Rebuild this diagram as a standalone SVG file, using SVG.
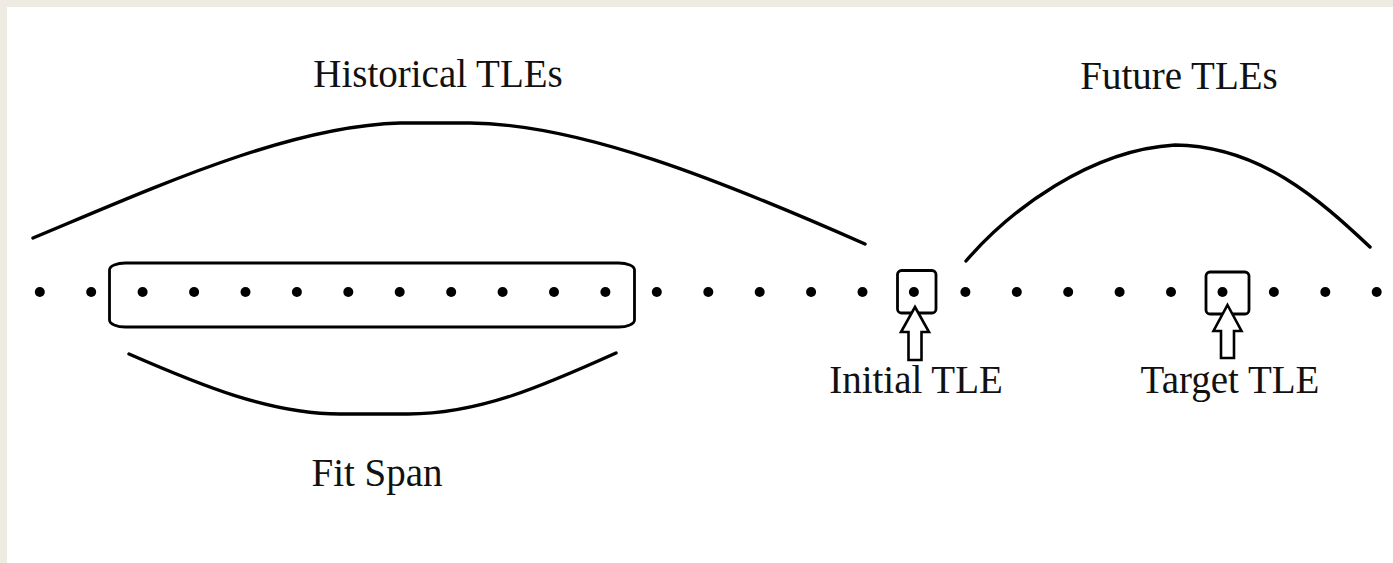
<svg xmlns="http://www.w3.org/2000/svg" width="1393" height="563" viewBox="0 0 1393 563">
  <style>
    .dot { fill: #000; }
    .line { fill: none; stroke: #000; stroke-width: 3.4; stroke-linecap: round; }
    .box { fill: none; stroke: #000; stroke-width: 2.8; }
    .arrow { fill: #fff; stroke: #000; stroke-width: 2.6; stroke-linejoin: miter; }
    .lbl { font-family: "Liberation Serif", "Times New Roman", serif; font-size: 39px; fill: #111; text-anchor: middle; }
  </style>
  <rect x="0" y="0" width="1393" height="563" fill="#EEEBE3"/>
  <rect x="7" y="7" width="1386" height="556" fill="#FFFFFF"/>

  <g id="dots">
    <circle class="dot" cx="39.8" cy="292" r="5"/>
    <circle class="dot" cx="91.2" cy="292" r="5"/>
    <circle class="dot" cx="142.6" cy="292" r="5"/>
    <circle class="dot" cx="194.1" cy="292" r="5"/>
    <circle class="dot" cx="245.5" cy="292" r="5"/>
    <circle class="dot" cx="296.9" cy="292" r="5"/>
    <circle class="dot" cx="348.3" cy="292" r="5"/>
    <circle class="dot" cx="399.7" cy="292" r="5"/>
    <circle class="dot" cx="451.2" cy="292" r="5"/>
    <circle class="dot" cx="502.6" cy="292" r="5"/>
    <circle class="dot" cx="554.0" cy="292" r="5"/>
    <circle class="dot" cx="605.4" cy="292" r="5"/>
    <circle class="dot" cx="656.8" cy="292" r="5"/>
    <circle class="dot" cx="708.3" cy="292" r="5"/>
    <circle class="dot" cx="759.7" cy="292" r="5"/>
    <circle class="dot" cx="811.1" cy="292" r="5"/>
    <circle class="dot" cx="862.5" cy="292" r="5"/>
    <circle class="dot" cx="913.9" cy="292" r="5"/>
    <circle class="dot" cx="965.4" cy="292" r="5"/>
    <circle class="dot" cx="1016.8" cy="292" r="5"/>
    <circle class="dot" cx="1068.2" cy="292" r="5"/>
    <circle class="dot" cx="1119.6" cy="292" r="5"/>
    <circle class="dot" cx="1171.0" cy="292" r="5"/>
    <circle class="dot" cx="1222.5" cy="292" r="5"/>
    <circle class="dot" cx="1273.9" cy="292" r="5"/>
    <circle class="dot" cx="1325.3" cy="292" r="5"/>
    <circle class="dot" cx="1376.7" cy="292" r="5"/>
  </g>

  <g id="fit-span-box">
    <rect class="box" x="109.5" y="263" width="525" height="64" rx="16" ry="7"/>
  </g>

  <g id="initial-tle">
    <rect class="box" x="897.5" y="270.5" width="38.5" height="42.5" rx="4" ry="4"/>
    <text class="lbl" x="916" y="393">Initial TLE</text>
  </g>

  <g id="target-tle">
    <rect class="box" x="1206" y="272" width="43" height="42" rx="4" ry="4"/>
    <text class="lbl" x="1230" y="393">Target TLE</text>
  </g>

  <g id="labels">
    <text class="lbl" x="438" y="87">Historical TLEs</text>
    <text class="lbl" x="1179" y="89">Future TLEs</text>
    <text class="lbl" x="377" y="486">Fit Span</text>
  </g>

  <g id="connectors">
    <path class="line" d="M33,238 C160,185 290,126 400,123 L470,123 C580,124 720,180 865,244"/>
    <path class="line" d="M966,261 C1010,210 1090,150 1175,145 C1260,146 1320,200 1370,247"/>
    <path class="line" d="M129,354 C200,385 270,414 340,414 L408,414 C480,414 545,385 616,353"/>
    <path class="arrow" d="M915,307 L929,332 L921.5,332 L921.5,360 L908.5,360 L908.5,332 L901,332 Z"/>
    <path class="arrow" d="M1227.5,305 L1241.5,331 L1234,331 L1234,358 L1221,358 L1221,331 L1213.5,331 Z"/>
  </g>
</svg>
